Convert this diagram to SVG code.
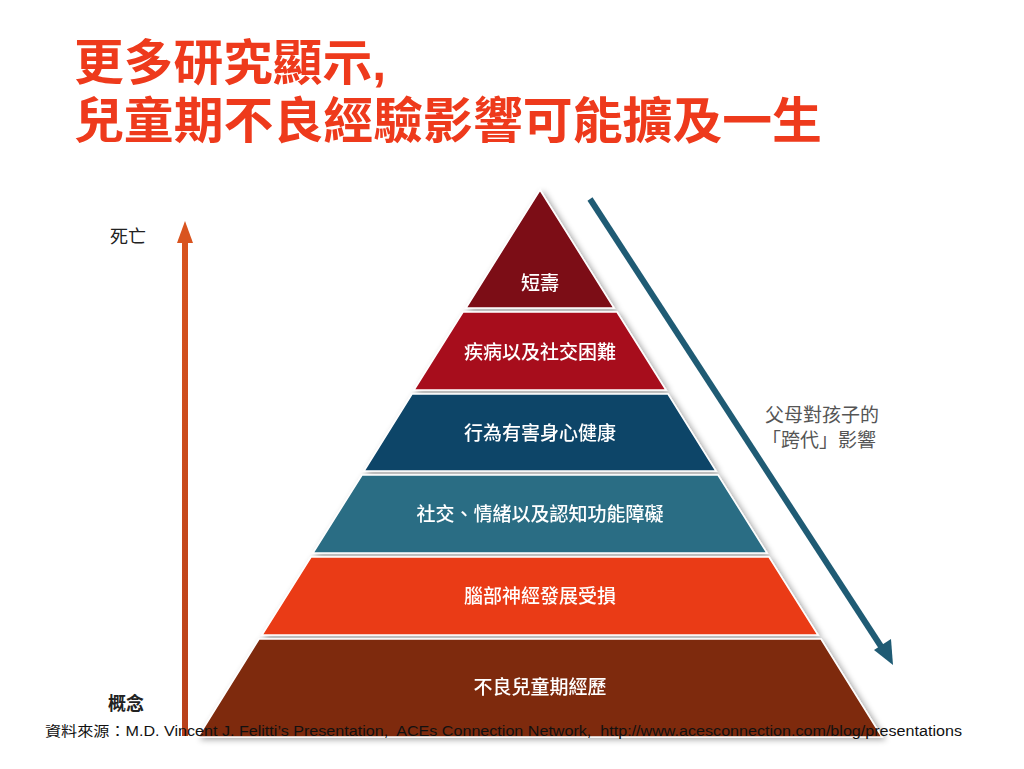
<svg xmlns="http://www.w3.org/2000/svg" width="1024" height="769" viewBox="0 0 1024 769">
<defs>
<style>
.title{font-family:"Liberation Sans","Noto Sans CJK TC",sans-serif;font-weight:bold;font-size:49px;fill:#ee3a1c}
.lbl{font-family:"Liberation Sans","Noto Sans CJK TC",sans-serif;font-size:19px;font-weight:500;fill:#ffffff;text-anchor:middle}
.side{font-family:"Liberation Sans","Noto Sans CJK TC",sans-serif;font-size:18px;fill:#222}
.note{font-family:"Liberation Sans","Noto Sans CJK TC",sans-serif;font-size:19px;fill:#555}
.src{font-family:"Liberation Sans","Noto Sans CJK TC",sans-serif;font-size:14px;fill:#111}
.layer{stroke:#ffffff;stroke-width:1.5}
</style>
<linearGradient id="upGrad" gradientUnits="userSpaceOnUse" x1="0" y1="736" x2="0" y2="230">
<stop offset="0" stop-color="#b8401a"/>
<stop offset="1" stop-color="#d9541f"/>
</linearGradient>
<filter id="shadow" x="-10%" y="-10%" width="120%" height="120%">
<feGaussianBlur in="SourceAlpha" stdDeviation="3"/>
<feOffset dx="3" dy="2"/>
<feComponentTransfer><feFuncA type="linear" slope="0.35"/></feComponentTransfer>
<feMerge><feMergeNode/><feMergeNode in="SourceGraphic"/></feMerge>
</filter>
</defs>
<rect width="1024" height="769" fill="#ffffff"/>

<g id="title">
<text class="title" x="74" y="80" textLength="312" lengthAdjust="spacingAndGlyphs">更多研究顯示,</text>
<text class="title" x="74" y="138" textLength="748" lengthAdjust="spacingAndGlyphs">兒童期不良經驗影響可能擴及一生</text>
</g>

<g id="connectors">
<rect x="182" y="238" width="6" height="498" fill="url(#upGrad)"/>
<path d="M185,221 L193,243 L177,243 Z" fill="#d9541f"/>
<line x1="590" y1="199" x2="884" y2="651" stroke="#1f5b74" stroke-width="6"/>
<path d="M893,665 L874,650 L891,639 Z" fill="#1f5b74"/>
</g>

<g id="pyramid" filter="url(#shadow)">
<g id="layer1">
<path class="layer" d="M540,190 L614,308 L466,308 Z" fill="#7c0a16"/>
<text class="lbl" x="540" y="290">短壽</text>
</g>
<g id="layer2">
<path class="layer" d="M463,312 L617,312 L666,390 L414,390 Z" fill="#a70f1f"/>
<text class="lbl" x="540" y="359">疾病以及社交困難</text>
</g>
<g id="layer3">
<path class="layer" d="M412,394 L668,394 L716,471 L364,471 Z" fill="#0e4568"/>
<text class="lbl" x="540" y="440">行為有害身心健康</text>
</g>
<g id="layer4">
<path class="layer" d="M362,475 L718,475 L767,553 L313,553 Z" fill="#2a6d84"/>
<text class="lbl" x="540" y="521">社交、情緒以及認知功能障礙</text>
</g>
<g id="layer5">
<path class="layer" d="M311,557 L769,557 L818,635 L262,635 Z" fill="#ea3a13"/>
<text class="lbl" x="540" y="603">腦部神經發展受損</text>
</g>
<g id="layer6">
<path class="layer" d="M259,639 L821,639 L882,737 L198,737 Z" fill="#7e2a0e"/>
<text class="lbl" x="540" y="694">不良兒童期經歷</text>
</g>
</g>

<g id="axis-labels">
<text class="side" x="110" y="243">死亡</text>
<text class="side" x="108" y="710" style="font-weight:bold">概念</text>
</g>

<g id="note">
<text class="note" x="765" y="422">父母對孩子的</text>
<text class="note" x="762" y="447">「跨代」影響</text>
</g>

<g id="source">
<text class="src" x="45" y="736" textLength="917" lengthAdjust="spacingAndGlyphs" xml:space="preserve">資料來源：M.D. Vincent J. Felitti’s Presentation,  ACEs Connection Network,  http://www.acesconnection.com/blog/presentations</text>
</g>
</svg>
